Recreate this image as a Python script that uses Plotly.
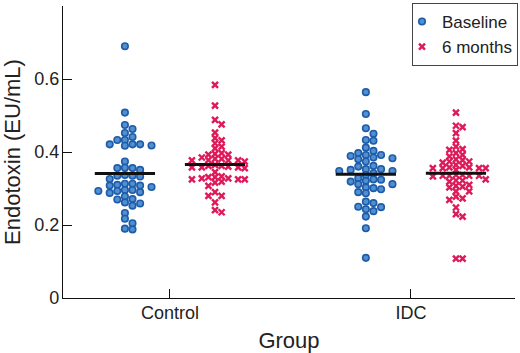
import numpy as np
import plotly.graph_objects as go

groups = ["Control", "IDC"]
series_names = ["Baseline", "6 months"]

control_baseline = [0.690, 0.508, 0.474, 0.463, 0.452, 0.441, 0.433, 0.433, 0.418, 0.421,
                    0.421, 0.417, 0.421, 0.374, 0.356, 0.357, 0.356, 0.351, 0.337, 0.335,
                    0.335, 0.326, 0.333, 0.308, 0.308, 0.313, 0.313, 0.310, 0.304, 0.288,
                    0.293, 0.296, 0.293, 0.290, 0.296, 0.270, 0.271, 0.278, 0.259, 0.262,
                    0.253, 0.233, 0.205, 0.188, 0.217, 0.190]
control_6m = [0.584, 0.527, 0.476, 0.488, 0.453, 0.438, 0.432, 0.424, 0.415, 0.410,
              0.397, 0.395, 0.393, 0.393, 0.381, 0.385, 0.378, 0.381, 0.374, 0.377,
              0.377, 0.377, 0.362, 0.365, 0.362, 0.358, 0.358, 0.356, 0.358, 0.360,
              0.345, 0.333, 0.325, 0.331, 0.325, 0.319, 0.325, 0.331, 0.328, 0.328,
              0.316, 0.307, 0.290, 0.280, 0.280, 0.262, 0.235, 0.241]
idc_baseline = [0.564, 0.504, 0.465, 0.450, 0.431, 0.433, 0.412, 0.389, 0.397, 0.392,
                0.383, 0.403, 0.380, 0.392, 0.374, 0.385, 0.362, 0.360, 0.353, 0.348,
                0.351, 0.342, 0.348, 0.337, 0.353, 0.328, 0.321, 0.324, 0.325, 0.319,
                0.312, 0.303, 0.298, 0.301, 0.312, 0.290, 0.287, 0.260, 0.238, 0.250,
                0.264, 0.243, 0.249, 0.223, 0.191, 0.110]
idc_6m = [0.508, 0.468, 0.472, 0.452, 0.431, 0.415, 0.408, 0.406, 0.397, 0.388,
          0.392, 0.378, 0.371, 0.374, 0.374, 0.380, 0.356, 0.356, 0.356, 0.365,
          0.358, 0.362, 0.358, 0.356, 0.351, 0.337, 0.333, 0.335, 0.337, 0.335,
          0.335, 0.335, 0.319, 0.325, 0.322, 0.322, 0.310, 0.303, 0.307, 0.305,
          0.292, 0.292, 0.278, 0.273, 0.269, 0.248, 0.223, 0.230, 0.108, 0.108]

center_baseline = [0.341, 0.339]
center_6m = [0.366, 0.342]

y_tickvals = [0, 0.2, 0.4, 0.6, 0.8]
y_ticktext = ["0", "0.2", "0.4", "0.6", "0.8"]

# layout geometry
X_RANGE = [0.556, 2.432]
Y_RANGE = [0, 0.8001]
M_L, M_R, M_T, M_B = 63, 5, 6, 55
W, H = 520, 353
PX = (W - M_L - M_R) / (X_RANGE[1] - X_RANGE[0])
PY = (H - M_T - M_B) / (Y_RANGE[1] - Y_RANGE[0])
OFFSET = 0.187
HALF_LINE = 0.125


def swarm(vals, dx_min, dy_min, step):
    ys = np.array(vals) * PY
    order = np.argsort(-ys)
    placed = []
    xs = np.zeros(len(vals))
    cands = [0.0]
    for k in range(1, 60):
        cands += [k * step, -k * step]
    for i in order:
        chosen = 0.0
        for c in cands:
            if all(abs(c - px) >= dx_min or abs(ys[i] - py) >= dy_min for px, py in placed):
                chosen = c
                break
        xs[i] = chosen
        placed.append((chosen, ys[i]))
    return xs / PX


fig = go.Figure()

base_color_line = "#1f5ca8"
base_color_fill = "#4f8fd2"
six_color = "#de1a5a"

data_base = [control_baseline, idc_baseline]
data_six = [control_6m, idc_6m]

for gi, g in enumerate(groups):
    cx = gi + 1 - OFFSET
    xs = cx + swarm(data_base[gi], 7.6, 5.6, 3.8)
    fig.add_trace(go.Scatter(
        x=xs, y=data_base[gi], mode="markers", name=series_names[0],
        legendgroup="b", showlegend=(gi == 0),
        marker=dict(symbol="circle", size=6.5, color=base_color_fill,
                    line=dict(color=base_color_line, width=1.6)),
    ))
    cx6 = gi + 1 + OFFSET
    xs6 = cx6 + swarm(data_six[gi], 6.6, 5.0, 3.3)
    fig.add_trace(go.Scatter(
        x=xs6, y=data_six[gi], mode="markers", name=series_names[1],
        legendgroup="s", showlegend=(gi == 0),
        marker=dict(symbol="x-thin", size=6, color=six_color,
                    line=dict(color=six_color, width=2.4)),
    ))

for gi in range(len(groups)):
    for cx, m in [(gi + 1 - OFFSET, center_baseline[gi]), (gi + 1 + OFFSET, center_6m[gi])]:
        fig.add_trace(go.Scatter(
            x=[cx - HALF_LINE, cx + HALF_LINE], y=[m, m], mode="lines",
            line=dict(color="#111111", width=3), showlegend=False, hoverinfo="skip",
        ))

font = dict(family="Arial, Liberation Sans, sans-serif", size=18, color="#222222")

fig.update_layout(
    width=W, height=H,
    margin=dict(l=M_L, r=M_R, t=M_T, b=M_B, autoexpand=False),
    paper_bgcolor="white", plot_bgcolor="white",
    font=font,
    showlegend=True,
    legend=dict(xref="container", yref="container",
                x=518 / W, xanchor="right", y=1 - 3 / H, yanchor="top",
                bordercolor="#444444", borderwidth=1, bgcolor="white",
                font=dict(size=17), tracegroupgap=0, itemwidth=30,
                indentation=-11),
    xaxis=dict(range=X_RANGE, tickvals=[1, 2], ticktext=groups,
               showline=True, linecolor="#111111", linewidth=1.3,
               ticks="inside", ticklen=9, tickcolor="#111111", tickwidth=1.3,
               showgrid=False, zeroline=False, ticklabelstandoff=-2,
               title=dict(text="Group", standoff=14)),
    yaxis=dict(range=Y_RANGE, tickvals=y_tickvals, ticktext=y_ticktext,
               showline=True, linecolor="#111111", linewidth=1.3,
               ticks="inside", ticklen=9, tickcolor="#111111", tickwidth=1.3,
               showgrid=False, zeroline=False, ticklabelstandoff=-1,
               title=dict(text="Endotoxin (EU/mL)", standoff=14)),
)

fig.write_html("out.html", config={"displayModeBar": False},
               post_script="document.body.style.margin='0';")
